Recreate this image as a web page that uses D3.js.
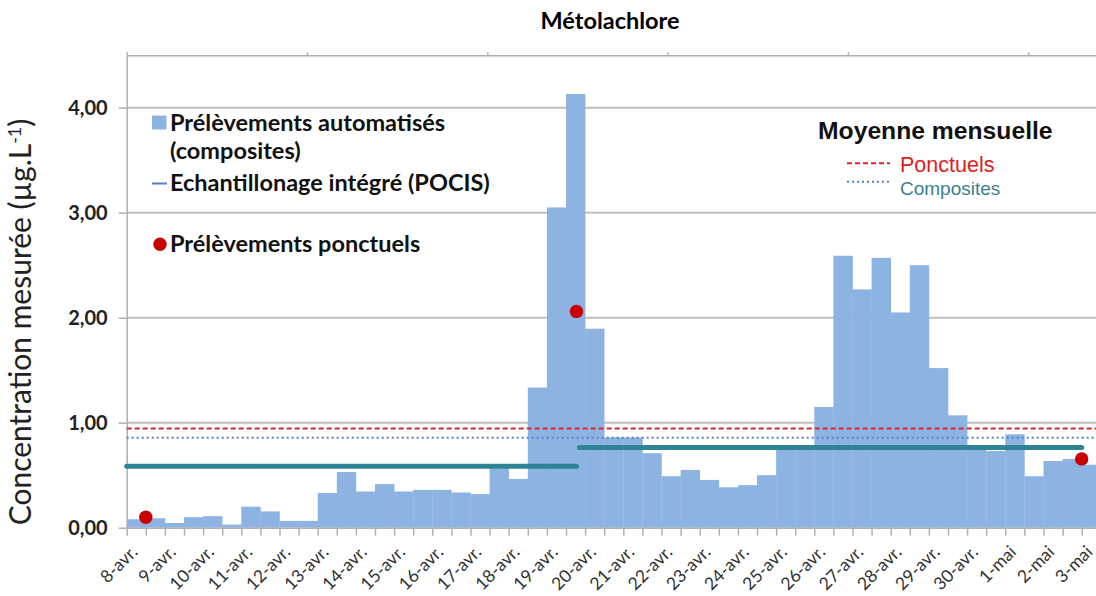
<!DOCTYPE html>
<meta charset="utf-8">
<style>
body { margin: 0; background: #fff; }
text { font-family: Lato, sans-serif; }
.axis path, .axis line { stroke: #b0b0b0; stroke-width: 1.5; }
.grid line { stroke: #c0c0c0; stroke-width: 2; }
.ytick text { font: bold 20px Lato, sans-serif; fill: #222; }
.xlabel { font: 17.5px Lato, sans-serif; fill: #333; }
.leg { font: bold 23.5px Lato, sans-serif; fill: #111; }
</style>
<svg width="1096" height="596"></svg>
<script src="https://d3js.org/d3.v7.min.js"></script>
<script>

// composite samples, one value every 12 h from 8-avr. 00h
var halfDayValues = [
  0.08, 0.09, 0.045, 0.10, 0.11, 0.03, 0.20, 0.155, 0.065, 0.065,
  0.33, 0.53, 0.345, 0.415, 0.345, 0.36, 0.36, 0.335, 0.32, 0.565,
  0.465, 1.335, 3.05, 4.13, 1.895, 0.86, 0.86, 0.71, 0.49, 0.55,
  0.455, 0.385, 0.405, 0.50, 0.75, 0.75, 1.15, 2.59, 2.27, 2.57,
  2.05, 2.50, 1.52, 1.07, 0.75, 0.73, 0.89, 0.49, 0.635, 0.655,
  0.60
];

var dayLabels = ["8-avr.", "9-avr.", "10-avr.", "11-avr.", "12-avr.", "13-avr.",
  "14-avr.", "15-avr.", "16-avr.", "17-avr.", "18-avr.", "19-avr.", "20-avr.",
  "21-avr.", "22-avr.", "23-avr.", "24-avr.", "25-avr.", "26-avr.", "27-avr.",
  "28-avr.", "29-avr.", "30-avr.", "1-mai", "2-mai", "3-mai"];

var yTicks = [0, 1, 2, 3, 4];

// spot samples (time in half-days from 8-avr.)
var spotTimes = [1, 23.55, 50];
var spotValues = [0.10, 2.06, 0.655];

// POCIS integrated sampling periods
var pocisStart = [0, 23.7];
var pocisEnd = [23.55, 50];
var pocisValues = [0.585, 0.765];

// monthly means
var meanPonctuels = 0.945;
var meanComposites = 0.857;

var svg = d3.select("svg"),
    left = 126.7,
    step = 19.1,
    x = d3.scaleLinear().domain([0, 51]).range([left, left + 51 * step]),
    y = d3.scaleLinear().domain([0, 4.5]).range([527.7, 55.2]),
    xTop = d3.scaleLinear().domain([0, 6]).range([left, left + 6 * 180.3]);

svg.append("text")
    .attr("x", 610).attr("y", 29)
    .attr("text-anchor", "middle")
    .style("font", "bold 23.5px Lato, sans-serif")
    .text("Métolachlore");

// gridlines
svg.append("g").attr("class", "grid")
  .selectAll("line")
  .data(yTicks.slice(1))
  .join("line")
    .attr("x1", left).attr("x2", 1096)
    .attr("y1", function(d) { return y(d); })
    .attr("y2", function(d) { return y(d); });

svg.append("g").attr("class", "axis")
    .attr("transform", "translate(0," + y(4.5) + ")")
    .call(d3.axisTop(xTop).tickValues(d3.range(0, 7)).tickSize(3).tickSizeOuter(0).tickFormat(""));

// bars
svg.append("g")
  .selectAll("rect")
  .data(halfDayValues)
  .join("rect")
    .attr("x", function(d, i) { return x(i); })
    .attr("width", function(d, i) { return x(i + 1) - x(i) + 0.3; })
    .attr("y", function(d) { return y(d); })
    .attr("height", function(d) { return y(0) - y(d); })
    .attr("fill", "#8db3e2");

// axes
svg.append("g").attr("class", "axis ytick")
    .attr("transform", "translate(" + left + ",0)")
    .call(d3.axisLeft(y).tickValues(yTicks).tickSize(8).tickSizeOuter(0).tickPadding(11)
      .tickFormat(function(d) { return d3.format(".2f")(d).replace(".", ","); }));

svg.append("g").attr("class", "axis")
    .attr("transform", "translate(0," + y(0) + ")")
    .call(d3.axisBottom(x).tickValues(d3.range(0, 52)).tickSize(8).tickSizeOuter(0).tickFormat(""));

svg.append("g")
  .selectAll("text")
  .data(dayLabels)
  .join("text")
    .attr("class", "xlabel")
    .attr("text-anchor", "end")
    .attr("transform", function(d, i) { return "translate(" + (x(i * 2) + 12) + "," + 553 + ") rotate(-45)"; })
    .text(function(d) { return d; });

// y title
svg.append("text")
    .attr("transform", "translate(31,322) rotate(-90)")
    .attr("text-anchor", "middle")
    .style("font", "30px Lato, sans-serif")
    .style("fill", "#222")
    .text("Concentration mesurée (µg.L")
  .append("tspan").attr("dy", -10).style("font-size", "18px").text("-1")
  .select(function() { return this.parentNode; })
  .append("tspan").attr("dy", 10).text(")");

// mean lines
svg.append("line")
    .attr("x1", left).attr("x2", 1096)
    .attr("y1", y(meanPonctuels)).attr("y2", y(meanPonctuels))
    .attr("stroke", "#e2262c").attr("stroke-width", 2).attr("stroke-dasharray", "5,3");
svg.append("line")
    .attr("x1", left).attr("x2", 1096)
    .attr("y1", y(meanComposites)).attr("y2", y(meanComposites))
    .attr("stroke", "#4f81cd").attr("stroke-width", 2).attr("stroke-dasharray", "2,3");

// POCIS
svg.append("g")
  .selectAll("line")
  .data(pocisValues)
  .join("line")
    .attr("x1", function(d, i) { return x(pocisStart[i]); })
    .attr("x2", function(d, i) { return x(pocisEnd[i]); })
    .attr("y1", function(d) { return y(d); })
    .attr("y2", function(d) { return y(d); })
    .attr("stroke", "#2e8494").attr("stroke-width", 5).attr("stroke-linecap", "round");

// spot samples
svg.append("g")
  .selectAll("circle")
  .data(spotValues)
  .join("circle")
    .attr("cx", function(d, i) { return x(spotTimes[i]); })
    .attr("cy", function(d) { return y(d); })
    .attr("r", 6.7)
    .attr("fill", "#c80000");

// left legend
var leg = svg.append("g");
leg.append("rect").attr("x", 152).attr("y", 115.5).attr("width", 14.5).attr("height", 14).attr("fill", "#8db3e2");
leg.append("text").attr("class", "leg").attr("x", 170).attr("y", 131).text("Prélèvements automatisés");
leg.append("text").attr("class", "leg").attr("x", 170).attr("y", 159).text("(composites)");
leg.append("line").attr("x1", 152).attr("x2", 167).attr("y1", 183.5).attr("y2", 183.5)
    .attr("stroke", "#4f81bd").attr("stroke-width", 2);
leg.append("text").attr("class", "leg").attr("x", 170).attr("y", 191).text("Echantillonage intégré (POCIS)");
leg.append("circle").attr("cx", 160).attr("cy", 244.3).attr("r", 6.7).attr("fill", "#c80000");
leg.append("text").attr("class", "leg").attr("x", 170).attr("y", 252).text("Prélèvements ponctuels");

// right legend
var leg2 = svg.append("g").style("font-family", "'Liberation Sans', Arial, sans-serif");
leg2.append("text").attr("x", 818).attr("y", 139).style("font-weight", "bold").style("font-size", "24.7px")
    .style("font-family", "'Liberation Sans', Arial, sans-serif").attr("fill", "#111").text("Moyenne mensuelle");
leg2.append("line").attr("x1", 847).attr("x2", 890).attr("y1", 163.3).attr("y2", 163.3)
    .attr("stroke", "#e2262c").attr("stroke-width", 2).attr("stroke-dasharray", "5,3");
leg2.append("text").attr("x", 900).attr("y", 171.5).style("font-size", "21.5px")
    .style("font-family", "'Liberation Sans', Arial, sans-serif").attr("fill", "#e0201c").text("Ponctuels");
leg2.append("line").attr("x1", 847).attr("x2", 889).attr("y1", 181.7).attr("y2", 181.7)
    .attr("stroke", "#4f81cd").attr("stroke-width", 2).attr("stroke-dasharray", "2,3");
leg2.append("text").attr("x", 900).attr("y", 195).style("font-size", "19px")
    .style("font-family", "'Liberation Sans', Arial, sans-serif").attr("fill", "#3d7f8c").text("Composites");

</script>
